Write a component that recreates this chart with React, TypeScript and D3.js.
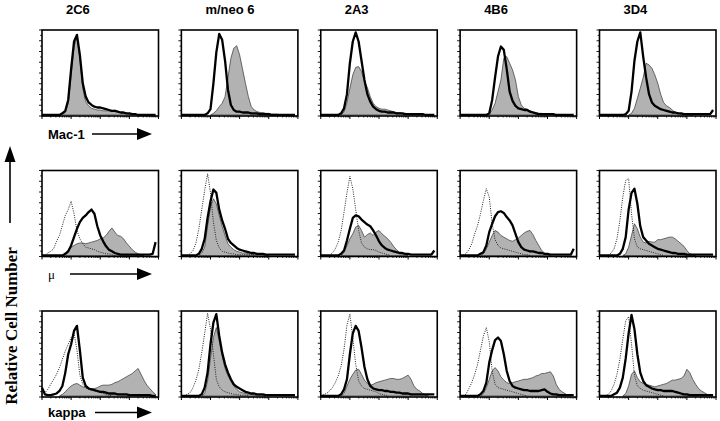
import React from 'react';
import * as d3 from 'd3';

// column titles and row markers
const clones = ['2C6', 'm/neo 6', '2A3', '4B6', '3D4'];
const markers = ['Mac-1', 'μ', 'kappa'];

// relative cell counts (0-100) in 40 channels, 10 per decade, 10^0 .. 10^4
const mac1Thick = [
  [0,0,0,0,0,0,0,2,5,18, 55,88,96,72,38,22,15,12,10,9, 9,8,7,6,5,5,4,3,3,2, 2,1,1,0,0,0,0,0,0,0],
  [0,0,0,0,0,0,0,0,0,2, 7,38,75,97,90,65,30,12,6,4, 4,3,3,3,2,2,2,1,1,1, 1,0,0,0,0,0,0,0,0,0],
  [0,0,0,0,0,0,0,2,8,25, 62,88,99,88,65,42,25,16,10,7, 5,4,4,3,3,3,2,2,2,1, 1,1,1,1,1,1,0,0,0,0],
  [0,0,0,0,0,0,0,0,0,0, 2,18,45,70,82,78,55,28,17,11, 8,7,6,6,4,3,2,1,1,1, 1,1,1,0,0,0,0,0,0,0],
  [0,0,0,0,0,0,0,0,0,1, 5,28,65,88,99,70,45,25,15,11, 9,7,6,5,4,3,3,2,2,1, 1,1,1,1,1,1,1,1,1,6],
];
const mac1Fill = [
  [0,0,0,0,0,0,0,1,3,14, 48,82,93,68,32,16,11,8,7,6, 6,5,5,5,4,6,4,3,2,2, 1,1,0,0,0,0,0,0,0,0],
  [0,0,0,0,0,0,0,0,0,0, 0,2,5,10,14,22,45,68,80,83, 72,55,38,22,10,6,4,3,3,2, 2,1,1,1,0,0,0,0,0,0],
  [0,0,0,0,0,0,0,0,4,15, 32,48,57,58,52,40,33,22,14,10, 8,7,7,6,5,4,3,3,2,2, 1,1,1,1,1,0,0,0,0,0],
  [0,0,0,0,0,0,0,0,0,0, 1,6,14,28,42,68,70,62,54,42, 22,12,8,7,5,4,3,2,2,1, 1,1,1,0,0,0,0,0,0,0],
  [0,0,0,0,0,0,0,0,0,0, 0,2,8,20,32,45,62,60,56,48, 38,25,15,11,9,6,3,2,1,1, 1,1,0,0,0,0,0,0,0,0],
];

const muDotted = [
  [0,0,3,5,8,17,24,36,48,55, 65,50,30,20,14,10,9,8,7,5, 4,3,2,2,1,0,0,0,0,0, 0,0,0,0,0,0,0,0,0,0],
  [0,0,0,2,6,15,32,55,78,98, 75,40,18,9,5,4,3,2,2,1, 1,1,1,1,1,0,0,0,0,0, 0,0,0,0,0,0,0,0,0,0],
  [0,0,0,0,3,8,16,30,52,75, 95,80,55,30,15,10,8,7,7,6, 4,3,2,1,0,0,0,0,0,0, 0,0,0,0,0,0,0,0,0,0],
  [0,0,2,7,14,26,36,50,66,80, 70,38,19,12,9,8,7,6,5,4, 3,2,1,1,0,0,0,0,0,0, 0,0,0,0,0,0,0,0,0,0],
  [0,0,0,0,3,8,20,42,70,90, 92,50,20,10,8,7,6,5,4,3, 2,1,0,0,0,0,0,0,0,0, 0,0,0,0,0,0,0,0,0,0],
];
const muThick = [
  [0,0,0,0,0,0,0,0,2,5, 12,22,32,40,45,48,52,55,50,35, 24,17,11,7,5,3,2,1,1,1, 1,1,1,1,1,1,1,1,2,16],
  [0,0,0,0,0,0,2,8,20,45, 65,79,75,55,42,32,20,15,12,9, 7,6,5,4,3,3,2,2,2,1, 1,1,1,1,1,1,1,1,1,1],
  [0,0,0,0,0,0,0,2,6,18, 32,45,48,47,43,40,37,35,30,24, 17,12,9,7,6,5,4,3,3,2, 2,1,1,1,1,1,1,1,1,6],
  [0,0,0,0,0,0,0,2,4,12, 28,38,47,52,53,51,46,42,36,26, 16,10,7,6,5,5,4,3,3,2, 2,1,1,1,1,1,1,1,1,8],
  [0,0,0,0,0,0,0,2,8,22, 55,75,80,62,35,22,18,14,12,10, 8,7,6,5,4,3,3,2,2,2, 1,1,1,1,1,1,1,1,1,1],
];
const muFill = [
  [0,0,0,0,0,0,0,0,3,6, 10,12,14,15,15,14,15,16,17,18, 20,21,24,29,33,28,24,23,20,15, 11,7,4,2,1,0,0,0,0,0],
  [0,0,0,0,0,0,0,3,10,35, 58,68,62,48,35,24,14,10,7,5, 4,3,3,2,2,1,1,1,1,1, 0,0,0,0,0,0,0,0,0,0],
  [0,0,0,0,0,0,0,0,4,12, 20,26,34,36,30,22,25,27,24,28, 30,26,23,20,16,11,7,4,2,1, 0,0,0,0,0,0,0,0,0,0],
  [0,0,0,0,0,0,0,0,2,8, 16,24,30,28,24,22,20,18,17,19, 21,24,27,29,30,25,18,12,6,3, 1,0,0,0,0,0,0,0,0,0],
  [0,0,0,0,0,0,0,0,0,2, 10,24,38,32,22,16,15,17,16,16, 19,19,20,21,22,22,20,17,14,11, 6,2,1,0,0,0,0,0,0,0],
];

const kappaDotted = [
  [2,4,8,14,20,26,34,44,54,62, 70,75,55,25,14,10,8,7,6,5, 4,3,2,1,0,0,0,0,0,0, 0,0,0,0,0,0,0,0,0,0],
  [0,0,2,4,10,19,32,52,75,99, 80,50,20,11,7,5,4,3,2,2, 1,1,1,0,0,0,0,0,0,0, 0,0,0,0,0,0,0,0,0,0],
  [0,2,3,6,10,16,24,36,56,85, 98,70,38,18,12,9,8,7,6,5, 3,2,1,0,0,0,0,0,0,0, 0,0,0,0,0,0,0,0,0,0],
  [0,0,2,9,16,26,38,55,72,82, 65,30,14,10,9,8,7,6,5,4, 3,2,1,0,0,0,0,0,0,0, 0,0,0,0,0,0,0,0,0,0],
  [0,0,0,2,6,14,26,44,68,90, 95,62,25,12,9,7,6,5,4,3, 2,1,0,0,0,0,0,0,0,0, 0,0,0,0,0,0,0,0,0,0],
];
const kappaThick = [
  [10,2,1,1,2,3,6,12,28,50, 62,78,84,55,22,12,9,8,7,6, 5,5,4,3,3,3,2,2,2,2, 1,1,1,1,1,1,1,1,0,0],
  [0,0,0,0,0,0,0,2,10,28, 62,88,98,72,52,38,28,20,14,11, 9,7,5,4,3,3,2,2,2,1, 1,1,1,1,1,1,1,1,1,1],
  [0,0,0,0,0,0,0,2,8,20, 50,75,84,78,58,35,20,12,9,8, 7,7,6,6,5,5,4,4,3,3, 3,2,2,2,2,2,2,2,2,2],
  [0,0,0,0,0,0,0,2,6,16, 40,55,67,70,66,50,30,18,12,10, 9,8,7,7,6,6,6,6,7,8, 5,3,2,2,1,1,1,1,1,1],
  [0,0,0,0,0,2,4,10,22,45, 75,97,80,50,28,18,13,11,9,8, 7,7,6,6,6,6,5,4,3,2, 2,1,1,1,1,1,1,1,1,1],
];
const kappaFill = [
  [0,0,0,0,0,0,0,2,5,9, 12,14,15,13,11,10,9,9,9,10, 12,13,13,13,14,16,17,19,21,23, 25,27,30,33,26,19,13,9,5,2],
  [0,0,0,0,0,0,0,0,3,18, 45,70,82,66,48,33,24,18,12,8, 5,4,3,2,2,1,1,1,1,0, 0,0,0,0,0,0,0,0,0,0],
  [0,0,0,0,0,0,0,0,3,12, 20,26,31,32,26,19,15,13,14,16, 17,18,19,20,21,21,20,20,21,23, 25,20,12,8,6,3,1,0,0,0],
  [0,0,0,0,0,0,0,0,3,10, 20,30,34,30,23,19,16,15,16,17, 18,19,20,20,21,22,24,25,27,27, 28,29,24,14,8,5,3,1,0,0],
  [0,0,0,0,0,0,0,0,0,3, 12,26,30,22,17,15,14,13,12,11, 12,13,14,15,17,19,19,20,21,24, 32,28,20,14,9,6,4,2,1,0],
];

const rows = [
  { marker: markers[0], dotted: null, thick: mac1Thick, fill: mac1Fill },
  { marker: markers[1], dotted: muDotted, thick: muThick, fill: muFill },
  { marker: markers[2], dotted: kappaDotted, thick: kappaThick, fill: kappaFill },
];

const W = 116.5;
const H = 86;
const colX = d3.scaleLinear().domain([0, 4]).range([42, 599.5]);
const rowY = d3.scaleLinear().domain([0, 2]).range([30, 311]);
const channel = (i: number) => Math.pow(10, i / 10);
const sans = '"Liberation Sans", Arial, Helvetica, sans-serif';
const serif = '"Liberation Serif", "Times New Roman", serif';

const near = (d: number, i: number, a: number[]) =>
  d > 0 || (a[i - 1] || 0) > 0 || (a[i + 1] || 0) > 0;

function Panel({ x0, y0, fill, thick, dotted }: any) {
  const x = d3.scaleLog().domain([1, 1e4]).range([x0, x0 + W]);
  const y = d3.scaleLinear().domain([0, 100]).range([y0 + H - 1, y0 + 1.5]);
  const yt = d3.scaleLinear().domain([0, 16]).range([y0 + H, y0]);

  const area = d3.area<number>()
    .defined(near)
    .x((d, i) => x(channel(i)))
    .y0(y(0))
    .y1(d => y(d));
  const line = d3.line<number>()
    .x((d, i) => x(channel(i)))
    .y(d => y(d));
  const dotLine = d3.line<number>()
    .defined(near)
    .x((d, i) => x(channel(i)))
    .y(d => y(d));

  const xTicks = x.ticks();
  return (
    <g>
      <path d={area(fill) || ''} fill="#b2b2b2" stroke="#333" strokeWidth={0.7} />
      {dotted && (
        <path d={dotLine(dotted) || ''} fill="none" stroke="#222" strokeWidth={1} strokeDasharray="1,1.3" />
      )}
      <path d={line(thick) || ''} fill="none" stroke="#000" strokeWidth={2.3} strokeLinejoin="round" />
      {xTicks.map((t, i) => {
        const major = Math.abs(Math.log10(t) - Math.round(Math.log10(t))) < 1e-9;
        return (
          <line key={'x' + i} x1={x(t)} x2={x(t)} y1={y0 + H} y2={y0 + H + (major ? 3 : 1.5)}
            stroke="#000" strokeWidth={major ? 1 : 0.8} />
        );
      })}
      {d3.range(17).map(k => (
        <line key={'y' + k} x1={x0} x2={x0 - (k % 2 === 0 ? 3 : 1.8)} y1={yt(k)} y2={yt(k)}
          stroke="#000" strokeWidth={0.9} />
      ))}
      <rect x={x0} y={y0} width={W} height={H} fill="none" stroke="#000" strokeWidth={1.6} />
    </g>
  );
}

function Arrow({ x1, x2, y }: any) {
  return (
    <g>
      <line x1={x1} x2={x2 - 12} y1={y} y2={y} stroke="#000" strokeWidth={1.6} />
      <path d={`M${x2},${y}L${x2 - 15},${y - 6}L${x2 - 15},${y + 6}Z`} fill="#000" />
    </g>
  );
}

export default function App() {
  const labelGap = [18, 17.5, 15.5];
  const arrowStart = [92, 70, 95];
  return (
    <svg width={720} height={421} style={{ position: 'absolute', left: 0, top: 0, background: '#fff' }}>
      <rect width={720} height={421} fill="#fff" />
      {clones.map((c, j) => (
        <text key={c} x={colX(j) + 24} y={14} fontFamily={sans} fontWeight="bold" fontSize={13}>{c}</text>
      ))}
      {rows.map((r, ri) => (
        <g key={r.marker}>
          {clones.map((c, j) => (
            <Panel key={c} x0={colX(j)} y0={rowY(ri)} fill={r.fill[j]} thick={r.thick[j]}
              dotted={r.dotted ? r.dotted[j] : null} />
          ))}
          <text x={48} y={rowY(ri) + H + labelGap[ri] + 4.5}
            fontFamily={ri === 1 ? serif : sans} fontWeight={ri === 1 ? 'normal' : 'bold'} fontSize={13}>
            {r.marker}
          </text>
          <Arrow x1={arrowStart[ri]} x2={152} y={rowY(ri) + H + labelGap[ri]} />
        </g>
      ))}
      <line x1={10} x2={10} y1={223} y2={158} stroke="#000" strokeWidth={1.6} />
      <path d="M10,146L4.5,162L15.5,162Z" fill="#000" />
      <text transform="translate(17,326) rotate(-90)" textAnchor="middle" fontFamily={serif}
        fontWeight="bold" fontSize={17}>Relative Cell Number</text>
    </svg>
  );
}
